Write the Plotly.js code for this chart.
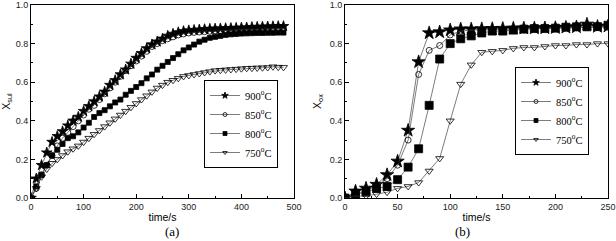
<!DOCTYPE html>
<html><head><meta charset="utf-8">
<script src="https://cdn.plot.ly/plotly-3.0.1.min.js"></script>
<style>html,body{margin:0;padding:0;background:#fff}#c{width:616px;height:241px}</style>
</head><body><div id="c"></div>
<script>
// ---- Panel (a): X_sul vs time, every 10 s from 0 to 480 ----
const timeA = [];
for (let t = 0; t <= 480; t += 10) timeA.push(t);
const a900 = [0,0.10,0.17,0.235,0.29,0.32,0.345,0.375,0.40,0.42,0.45,0.475,0.50,0.525,0.55,0.585,0.61,0.64,0.665,0.695,0.725,0.75,0.775,0.795,0.81,0.825,0.84,0.85,0.858,0.864,0.868,0.87,0.872,0.874,0.876,0.877,0.878,0.879,0.88,0.881,0.882,0.883,0.885,0.886,0.887,0.888,0.889,0.89,0.89];
const a850 = [0,0.05,0.12,0.17,0.22,0.27,0.31,0.34,0.37,0.40,0.43,0.46,0.48,0.51,0.54,0.57,0.60,0.63,0.66,0.685,0.71,0.735,0.76,0.785,0.80,0.815,0.825,0.835,0.845,0.85,0.855,0.858,0.86,0.862,0.864,0.866,0.868,0.869,0.87,0.871,0.872,0.873,0.874,0.875,0.876,0.877,0.877,0.878,0.878];
const a800 = [0,0.06,0.12,0.17,0.22,0.25,0.28,0.31,0.32,0.34,0.365,0.39,0.42,0.44,0.455,0.475,0.495,0.51,0.535,0.555,0.575,0.595,0.62,0.64,0.665,0.685,0.705,0.725,0.745,0.765,0.78,0.795,0.81,0.82,0.83,0.835,0.84,0.845,0.848,0.85,0.852,0.853,0.854,0.855,0.855,0.856,0.856,0.857,0.857];
const a750 = [0,0.05,0.11,0.15,0.18,0.20,0.22,0.24,0.255,0.27,0.29,0.31,0.33,0.35,0.37,0.39,0.41,0.43,0.45,0.47,0.49,0.51,0.53,0.55,0.57,0.585,0.60,0.61,0.62,0.63,0.635,0.64,0.645,0.65,0.655,0.66,0.662,0.664,0.666,0.668,0.67,0.672,0.673,0.674,0.675,0.676,0.68,0.678,0.677];

// ---- Panel (b): X_ox vs time, every 10 s from 0 to 250 ----
const timeB = [];
for (let t = 0; t <= 250; t += 10) timeB.push(t);
const b900 = [0,0.035,0.05,0.07,0.12,0.19,0.35,0.705,0.855,0.86,0.87,0.875,0.875,0.876,0.877,0.878,0.879,0.88,0.88,0.881,0.882,0.884,0.886,0.90,0.888,0.89];
const b850 = [0,0.02,0.04,0.06,0.10,0.17,0.30,0.64,0.765,0.79,0.845,0.865,0.87,0.872,0.874,0.875,0.876,0.877,0.878,0.879,0.88,0.881,0.882,0.883,0.884,0.885];
const b800 = [0,0.02,0.03,0.05,0.06,0.095,0.16,0.255,0.48,0.72,0.80,0.825,0.84,0.855,0.865,0.865,0.87,0.875,0.878,0.878,0.88,0.885,0.887,0.887,0.888,0.895];
const b750 = [0,0.01,0.01,0.02,0.03,0.05,0.06,0.08,0.14,0.205,0.40,0.59,0.69,0.755,0.76,0.765,0.775,0.78,0.78,0.785,0.79,0.79,0.795,0.795,0.80,0.80];

const names = ["900<sup>o</sup>C","850<sup>o</sup>C","800<sup>o</sup>C","750<sup>o</sup>C"];
const symbols = ["star","circle-open","square","triangle-down-open"];
const sizeA = [8,6,5,7];
const sizeB = [10,6,8,7];
const sizeLegend = [5,4,4,4];

const lineStyle = {color:"#444", width:0.7};
const traces = [];
[a900,a850,a800,a750].forEach((ys,i)=>{
  traces.push({x:timeA, y:ys, name:names[i], type:"scatter", mode:"lines+markers",
    xaxis:"x", yaxis:"y", showlegend:false,
    line:lineStyle, marker:{symbol:symbols[i], size:sizeA[i], color:"#000", line:{color:"#000",width:0.8}}});
});
[b900,b850,b800,b750].forEach((ys,i)=>{
  traces.push({x:timeB, y:ys, name:names[i], type:"scatter", mode:"lines+markers",
    xaxis:"x2", yaxis:"y2", showlegend:false,
    line:lineStyle, marker:{symbol:symbols[i], size:sizeB[i], color:"#000", line:{color:"#000",width:0.8}}});
});
// legend-only entries with small symbols (as in the reference legends)
["legend","legend2"].forEach((lg,k)=>{
  names.forEach((nm,i)=>{
    traces.push({x:[null], y:[null], name:nm, type:"scatter", mode:"lines+markers",
      xaxis:k?"x2":"x", yaxis:k?"y2":"y", legend:lg, showlegend:true,
      line:lineStyle, marker:{symbol:symbols[i], size:sizeLegend[i], color:"#000", line:{color:"#000",width:0.8}}});
  });
});

const tickFont = {family:"Liberation Sans, Arial", size:9, color:"#222"};
const axBase = {showline:true, linecolor:"#000", linewidth:1, mirror:true, ticks:"inside",
  ticklen:4, tickcolor:"#000", showgrid:false, zeroline:false, tickfont:tickFont};
const yDom = [1-198/241, 1-5/241];
const titleFont = {family:"Liberation Sans, Arial", size:10.5, color:"#000"};

const legBase = {bgcolor:"#fff", bordercolor:"#000", borderwidth:1,
  font:{family:"Liberation Serif, Times New Roman", size:10.5, color:"#000"},
  xanchor:"left", yanchor:"top", itemwidth:30, tracegroupgap:0};

const layout = {
  width:616, height:241, margin:{l:0,r:0,t:0,b:0},
  paper_bgcolor:"#fff", plot_bgcolor:"#fff", showlegend:true,
  xaxis:Object.assign({}, axBase, {domain:[31/616,294/616], range:[0,500], dtick:100, anchor:"y",
    minor:{ticks:"inside", ticklen:2, dtick:50, tickcolor:"#000"},
    title:{text:"time/s", font:titleFont, standoff:2}}),
  yaxis:Object.assign({}, axBase, {domain:yDom, range:[0,1], dtick:0.2, tickformat:".1f", anchor:"x",
    minor:{ticks:"inside", ticklen:2, dtick:0.1, tickcolor:"#000"},
    title:{text:"X<sub>sul</sub>", font:titleFont, standoff:6}}),
  xaxis2:Object.assign({}, axBase, {domain:[345/616,608/616], range:[0,250], dtick:50, anchor:"y2",
    minor:{ticks:"inside", ticklen:2, dtick:25, tickcolor:"#000"},
    title:{text:"time/s", font:titleFont, standoff:2}}),
  yaxis2:Object.assign({}, axBase, {domain:yDom, range:[0,1], dtick:0.2, tickformat:".1f", anchor:"x2",
    minor:{ticks:"inside", ticklen:2, dtick:0.1, tickcolor:"#000"},
    title:{text:"X<sub>ox</sub>", font:titleFont, standoff:6}}),
  legend:Object.assign({}, legBase, {x:204/616, y:1-80/241}),
  legend2:Object.assign({}, legBase, {x:515/616, y:1-67/241}),
  annotations:[
    {text:"(a)", xref:"paper", yref:"paper", x:163/616, y:0, yanchor:"bottom", showarrow:false,
     font:{family:"Liberation Serif, Times New Roman", size:13, color:"#000"}},
    {text:"(b)", xref:"paper", yref:"paper", x:472/616, y:0, yanchor:"bottom", showarrow:false,
     font:{family:"Liberation Serif, Times New Roman", size:13, color:"#000"}}
  ]
};
Plotly.newPlot("c", traces, layout, {staticPlot:true, displayModeBar:false});
</script>
</body></html>
